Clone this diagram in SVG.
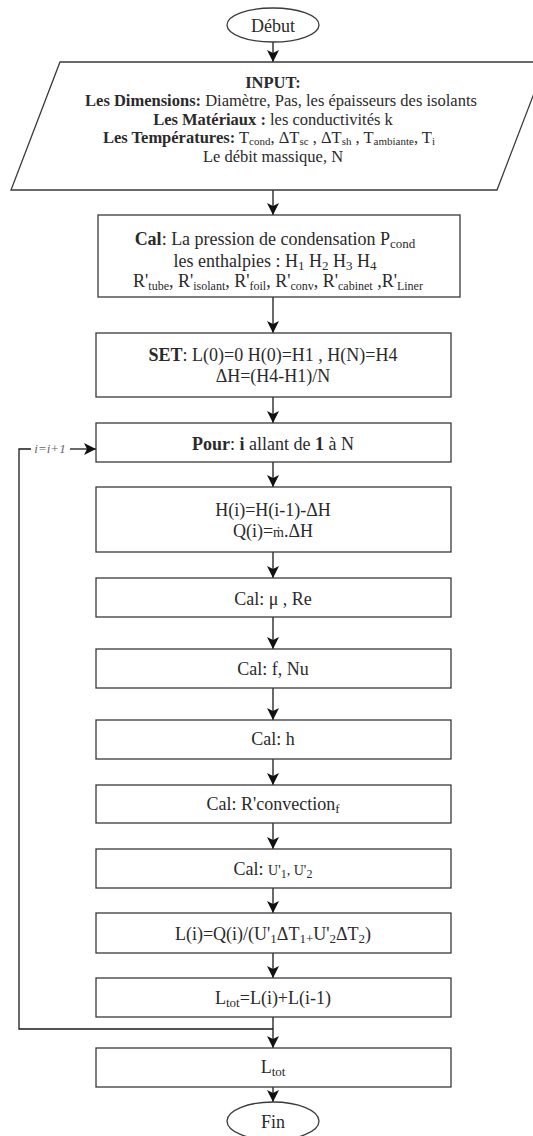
<svg xmlns="http://www.w3.org/2000/svg" width="533" height="1136" viewBox="0 0 533 1136">
  <style>
    .shape { fill: #ffffff; stroke: #3a3a3a; stroke-width: 1.3; }
    .wire { fill: none; stroke: #1a1a1a; stroke-width: 1.3; }
    text { font-family: "Liberation Serif", "Times New Roman", serif; fill: #2a2a2a; }
    .t { font-size: 18px; text-anchor: middle; }
    .in { font-size: 16.5px; text-anchor: middle; }
    .b { font-weight: bold; }
    .lbl { font-size: 13px; font-style: italic; fill: #666666; }
  </style>
  <defs>
    <marker id="arrow" viewBox="0 0 10 10" refX="10" refY="5" markerWidth="12" markerHeight="12" markerUnits="userSpaceOnUse" orient="auto">
      <path d="M0,0 L10,5 L0,10 L2.5,5 Z" fill="#111111"/>
    </marker>
  </defs>
  <rect width="533" height="1136" fill="#ffffff"/>

  <!-- connectors -->
  <g id="connectors" class="wire">
    <line x1="273" y1="42" x2="273" y2="62" marker-end="url(#arrow)"/>
    <line x1="273" y1="190" x2="273" y2="215" marker-end="url(#arrow)"/>
    <line x1="273" y1="297" x2="273" y2="333" marker-end="url(#arrow)"/>
    <line x1="273" y1="397" x2="273" y2="423" marker-end="url(#arrow)"/>
    <line x1="273" y1="462" x2="273" y2="487" marker-end="url(#arrow)"/>
    <line x1="273" y1="552" x2="273" y2="578" marker-end="url(#arrow)"/>
    <line x1="273" y1="617" x2="273" y2="649" marker-end="url(#arrow)"/>
    <line x1="273" y1="688" x2="273" y2="720" marker-end="url(#arrow)"/>
    <line x1="273" y1="759" x2="273" y2="785" marker-end="url(#arrow)"/>
    <line x1="273" y1="823" x2="273" y2="849" marker-end="url(#arrow)"/>
    <line x1="273" y1="888" x2="273" y2="913" marker-end="url(#arrow)"/>
    <line x1="273" y1="953" x2="273" y2="978" marker-end="url(#arrow)"/>
    <line x1="273" y1="1017" x2="273" y2="1048" marker-end="url(#arrow)"/>
    <line x1="273" y1="1087" x2="273" y2="1102" marker-end="url(#arrow)"/>
    <!-- loop back: i = i + 1 -->
    <path d="M273,1029 H19 V449 H31"/>
    <line x1="70" y1="449" x2="96" y2="449" marker-end="url(#arrow)"/>
  </g>
  <text class="lbl" x="50" y="453" text-anchor="middle">i=i+1</text>

  <g id="debut">
    <ellipse class="shape" cx="273" cy="25" rx="46" ry="17"/>
    <text class="t" x="273" y="32">Début</text>
  </g>

  <g id="input">
    <polygon class="shape" points="60,62 546,62 497,190 11,190"/>
    <text class="in b" x="273" y="88" font-size="15">INPUT:</text>
    <text class="in" x="281" y="106"><tspan class="b">Les Dimensions:</tspan> Diamètre, Pas, les épaisseurs des isolants</text>
    <text class="in" x="273" y="124.5"><tspan class="b">Les Matériaux :</tspan> les conductivités k</text>
    <text class="in" x="269" y="143"><tspan class="b">Les Températures:</tspan> T<tspan font-size="11" dy="1.5">cond</tspan><tspan dy="-1.5">, ΔT</tspan><tspan font-size="11" dy="1.5">sc</tspan><tspan dy="-1.5"> , ΔT</tspan><tspan font-size="11" dy="1.5">sh</tspan><tspan dy="-1.5"> , T</tspan><tspan font-size="11" dy="1.5">ambiante</tspan><tspan dy="-1.5">, T</tspan><tspan font-size="11" dy="1.5">i</tspan></text>
    <text class="in" x="273" y="162">Le débit massique, N</text>
  </g>

  <g id="cal-init">
    <rect class="shape" x="98" y="215" width="362" height="82"/>
    <text class="t" x="275" y="245" font-size="18.5"><tspan class="b">Cal</tspan>: La pression de condensation P<tspan font-size="13" dy="3">cond</tspan></text>
    <text class="t" x="275" y="267" font-size="18.5">les enthalpies : H<tspan font-size="13" dy="3">1</tspan><tspan dy="-3"> H</tspan><tspan font-size="13" dy="3">2</tspan><tspan dy="-3"> H</tspan><tspan font-size="13" dy="3">3</tspan><tspan dy="-3"> H</tspan><tspan font-size="13" dy="3">4</tspan></text>
    <text class="t" x="278" y="287" font-size="16.5">R'<tspan font-size="12" dy="3">tube</tspan><tspan dy="-3">, R'</tspan><tspan font-size="12" dy="3">isolant</tspan><tspan dy="-3">, R'</tspan><tspan font-size="12" dy="3">foil</tspan><tspan dy="-3">, R'</tspan><tspan font-size="12" dy="3">conv</tspan><tspan dy="-3">, R'</tspan><tspan font-size="12" dy="3">cabinet</tspan><tspan dy="-3"> ,R'</tspan><tspan font-size="12" dy="3">Liner</tspan></text>
  </g>

  <g id="set">
    <rect class="shape" x="96" y="333" width="355" height="64"/>
    <text class="t" x="273" y="361"><tspan class="b">SET</tspan>: L(0)=0 H(0)=H1 , H(N)=H4</text>
    <text class="t" x="273" y="382">ΔH=(H4-H1)/N</text>
  </g>

  <g id="pour">
    <rect class="shape" x="96" y="423" width="355" height="39"/>
    <text class="t" x="273" y="450"><tspan class="b">Pour</tspan>: <tspan class="b">i</tspan> allant de <tspan class="b">1</tspan> à N</text>
  </g>

  <g id="enthalpie">
    <rect class="shape" x="96" y="487" width="355" height="65"/>
    <text class="t" x="273" y="516">H(i)=H(i-1)-ΔH</text>
    <text class="t" x="273" y="537">Q(i)=<tspan font-size="14">ṁ</tspan>.ΔH</text>
  </g>

  <g id="cal-mu-re">
    <rect class="shape" x="96" y="578" width="355" height="39"/>
    <text class="t" x="273" y="605">Cal: μ , Re</text>
  </g>

  <g id="cal-f-nu">
    <rect class="shape" x="96" y="649" width="355" height="39"/>
    <text class="t" x="273" y="675">Cal: f, Nu</text>
  </g>

  <g id="cal-h">
    <rect class="shape" x="96" y="720" width="355" height="39"/>
    <text class="t" x="273" y="745">Cal: h</text>
  </g>

  <g id="cal-rconv">
    <rect class="shape" x="96" y="785" width="355" height="38"/>
    <text class="t" x="273" y="810">Cal: R'convection<tspan font-size="13" dy="3">f</tspan></text>
  </g>

  <g id="cal-u">
    <rect class="shape" x="96" y="849" width="355" height="39"/>
    <text class="t" x="273" y="875">Cal: <tspan font-size="14">U'</tspan><tspan font-size="12" dy="3">1</tspan><tspan font-size="14" dy="-3">, U'</tspan><tspan font-size="12" dy="3">2</tspan></text>
  </g>

  <g id="longueur">
    <rect class="shape" x="96" y="913" width="355" height="40"/>
    <text class="t" x="273" y="940">L(i)=Q(i)/(U'<tspan font-size="13" dy="3">1</tspan><tspan dy="-3">ΔT</tspan><tspan font-size="13" dy="3">1+</tspan><tspan dy="-3">U'</tspan><tspan font-size="13" dy="3">2</tspan><tspan dy="-3">ΔT</tspan><tspan font-size="13" dy="3">2</tspan><tspan dy="-3">)</tspan></text>
  </g>

  <g id="cumul">
    <rect class="shape" x="96" y="978" width="355" height="39"/>
    <text class="t" x="273" y="1004">L<tspan font-size="13" dy="3">tot</tspan><tspan dy="-3">=L(i)+L(i-1)</tspan></text>
  </g>

  <g id="total">
    <rect class="shape" x="96" y="1048" width="355" height="39"/>
    <text class="t" x="273" y="1073">L<tspan font-size="13" dy="3">tot</tspan></text>
  </g>

  <g id="fin">
    <ellipse class="shape" cx="273" cy="1121" rx="46" ry="19"/>
    <text class="t" x="273" y="1128">Fin</text>
  </g>
</svg>
